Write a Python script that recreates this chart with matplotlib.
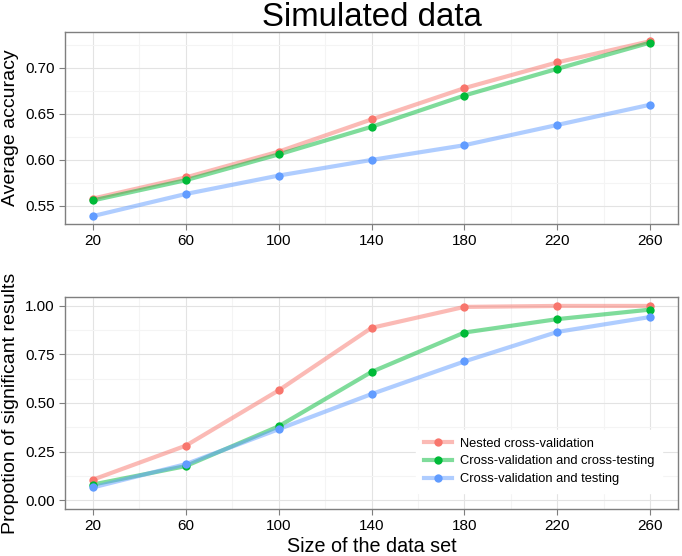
import numpy as np
import matplotlib.pyplot as plt
from matplotlib.ticker import MultipleLocator
from matplotlib.lines import Line2D

plt.rcParams["font.family"] = ["Liberation Sans", "DejaVu Sans"]

sizes = [20, 60, 100, 140, 180, 220, 260]

methods = [
    "Nested cross-validation",
    "Cross-validation and cross-testing",
    "Cross-validation and testing",
]
method_colors = ["#F8766D", "#00BA38", "#619CFF"]

accuracy = {
    "Nested cross-validation": [0.558, 0.581, 0.609, 0.644, 0.678, 0.706, 0.729],
    "Cross-validation and cross-testing": [0.556, 0.578, 0.606, 0.636, 0.670, 0.699, 0.7275],
    "Cross-validation and testing": [0.539, 0.563, 0.583, 0.600, 0.616, 0.638, 0.660],
}

significant = {
    "Nested cross-validation": [0.105, 0.28, 0.565, 0.887, 0.995, 1.0, 1.0],
    "Cross-validation and cross-testing": [0.08, 0.175, 0.38, 0.66, 0.863, 0.932, 0.981],
    "Cross-validation and testing": [0.065, 0.185, 0.365, 0.546, 0.714, 0.866, 0.943],
}

W, H = 682, 556
fig = plt.figure(figsize=(W / 100, H / 100), dpi=100)


def px_axes(left, top, right, bottom):
    return fig.add_axes([left / W, 1 - bottom / H, (right - left) / W, (bottom - top) / H])


def style_axes(ax, ylim, ymajor, yminor):
    ax.set_xlim(8, 272)
    ax.set_ylim(*ylim)
    ax.set_xticks(sizes)
    ax.set_xticks([40, 80, 120, 160, 200, 240], minor=True)
    ax.yaxis.set_major_locator(MultipleLocator(ymajor))
    ax.yaxis.set_minor_locator(MultipleLocator(yminor))
    ax.grid(which="major", color="#E3E3E3", linewidth=0.8)
    ax.grid(which="minor", color="#F4F4F4", linewidth=0.8)
    ax.set_axisbelow(True)
    for s in ax.spines.values():
        s.set_color("#7F7F7F")
        s.set_linewidth(1.0)
    ax.tick_params(which="major", length=4, color="#7F7F7F", labelsize=11, labelcolor="black")
    ax.tick_params(which="minor", length=0)


def draw(ax, data):
    for m, c in zip(methods, method_colors):
        ax.plot(sizes, data[m], color=c, alpha=0.5, linewidth=3, solid_capstyle="butt")
    for m, c in zip(methods, method_colors):
        ax.plot(sizes, data[m], "o", color=c, markersize=6, markeredgewidth=0)


ax1 = px_axes(65, 32, 678, 224)
draw(ax1, accuracy)
style_axes(ax1, (0.5304, 0.739), 0.05, 0.025)
ax1.set_yticks([0.55, 0.60, 0.65, 0.70])
ax1.set_ylabel("Average accuracy", fontsize=14, labelpad=4)
fig.text(372 / W, 1 - 17 / H, "Simulated data", ha="center", va="center", fontsize=23.8)

ax2 = px_axes(65, 297, 678, 509)
draw(ax2, significant)
style_axes(ax2, (-0.046, 1.046), 0.25, 0.125)
ax2.set_yticks([0.0, 0.25, 0.5, 0.75, 1.0])
ax2.set_yticklabels(["0.00", "0.25", "0.50", "0.75", "1.00"])
ax2.set_ylabel("Propotion of significant results", fontsize=14, labelpad=4)
ax2.set_xlabel("Size of the data set", fontsize=14.2, labelpad=2.5)

handles = []
for c in method_colors:
    ln = Line2D([], [], color=c, alpha=0.5, linewidth=3)
    mk = Line2D([], [], color=c, marker="o", linestyle="none", markersize=6, markeredgewidth=0)
    handles.append((ln, mk))
leg = ax2.legend(handles, methods, loc="lower right", bbox_to_anchor=(0.985, 0.045),
                 frameon=True, fontsize=9.3, handlelength=2.2, labelspacing=0.45,
                 borderpad=0.6, handletextpad=0.6)
leg.get_frame().set_facecolor("white")
leg.get_frame().set_edgecolor("white")
leg.get_frame().set_alpha(1)

fig.savefig("out.png", dpi=100)
